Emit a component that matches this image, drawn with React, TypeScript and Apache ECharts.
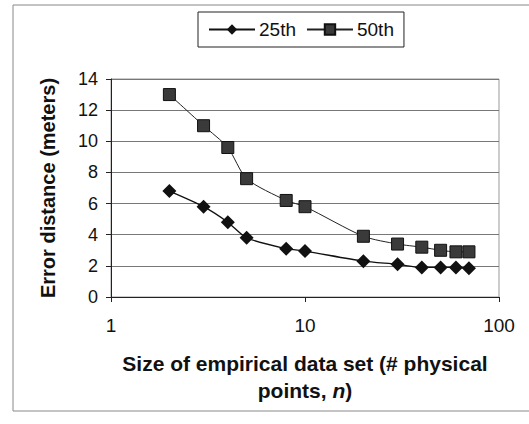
import React, { useEffect, useRef } from "react";
import * as echarts from "echarts";

const sizes = [2, 3, 4, 5, 8, 10, 20, 30, 40, 50, 60, 70];
const p25 = [6.8, 5.8, 4.8, 3.8, 3.1, 2.95, 2.3, 2.1, 1.9, 1.9, 1.9, 1.85];
const p50 = [13.0, 11.0, 9.6, 7.6, 6.2, 5.8, 3.9, 3.4, 3.2, 3.0, 2.9, 2.9];
const seriesNames = ["25th", "50th"];
const yTicks = [0, 2, 4, 6, 8, 10, 12, 14];

const FONT = "Liberation Sans, Arial, sans-serif";

export default function App() {
  const ref = useRef<HTMLDivElement>(null);
  useEffect(() => {
    if (!ref.current) return;
    const chart = echarts.init(ref.current, null, { renderer: "svg" });
    chart.setOption({
      animation: false,
      backgroundColor: "#fff",
      textStyle: { fontFamily: FONT },
      graphic: [
        {
          type: "rect",
          shape: { x: 13, y: 5, width: 530, height: 406 },
          style: { fill: "none", stroke: "#888", lineWidth: 1 },
          silent: true,
        },
      ],
      legend: {
        left: 198,
        top: 12,
        padding: [8, 10, 8, 10],
        borderColor: "#222",
        borderWidth: 1,
        itemGap: 10,
        itemWidth: 46,
        itemHeight: 13,
        textStyle: { fontFamily: FONT, fontSize: 19, color: "#111", padding: [0, 0, 0, -1] },
        data: seriesNames,
      },
      grid: { left: 111, right: 30, top: 79, bottom: 127, show: true, borderColor: "#999", borderWidth: 1, backgroundColor: "transparent" },
      xAxis: {
        type: "log",
        logBase: 10,
        min: 1,
        max: 100,
        axisLine: { show: true, lineStyle: { color: "#222", width: 1 } },
        axisTick: { show: true, length: 5, lineStyle: { color: "#222" } },
        minorTick: { show: false },
        splitLine: { show: false },
        axisLabel: { fontFamily: FONT, fontSize: 19, color: "#111", margin: 19 },
        name: "{b|Size of empirical data set (# physical}\n{b|points, }{i|n}{b|)}",
        nameLocation: "middle",
        nameGap: 53,
        nameTextStyle: {
          align: "center",
          lineHeight: 27,
          rich: {
            b: { fontFamily: FONT, fontSize: 21, fontWeight: "bold", color: "#111", lineHeight: 27 },
            i: { fontFamily: FONT, fontSize: 21, fontWeight: "bold", fontStyle: "italic", color: "#111", lineHeight: 27 },
          },
        },
      },
      yAxis: {
        type: "value",
        min: yTicks[0],
        max: yTicks[yTicks.length - 1],
        interval: 2,
        axisLine: { show: true, lineStyle: { color: "#222", width: 1 } },
        axisTick: { show: true, length: 5, lineStyle: { color: "#222" } },
        splitLine: { show: true, lineStyle: { color: "#777", width: 1 } },
        axisLabel: { fontFamily: FONT, fontSize: 18, color: "#111", margin: 13 },
        name: "Error distance (meters)",
        nameLocation: "middle",
        nameGap: 53,
        nameTextStyle: { fontFamily: FONT, fontSize: 20, fontWeight: "bold", color: "#111" },
      },
      series: [
        {
          name: seriesNames[0],
          type: "line",
          smooth: 0.25,
          data: sizes.map((s, i) => [s, p25[i]]),
          symbol: "diamond",
          symbolSize: 14,
          itemStyle: { color: "#111" },
          lineStyle: { color: "#111", width: 1.3 },
        },
        {
          name: seriesNames[1],
          type: "line",
          smooth: 0.25,
          data: sizes.map((s, i) => [s, p50[i]]),
          symbol: "rect",
          symbolSize: 12,
          itemStyle: { color: "#3a3a3a", borderColor: "#111", borderWidth: 1 },
          lineStyle: { color: "#222", width: 1 },
        },
      ],
    });
    return () => chart.dispose();
  }, []);
  return (
    <div
      ref={ref}
      style={{ position: "fixed", left: 0, top: 0, width: 529, height: 424 }}
    />
  );
}
